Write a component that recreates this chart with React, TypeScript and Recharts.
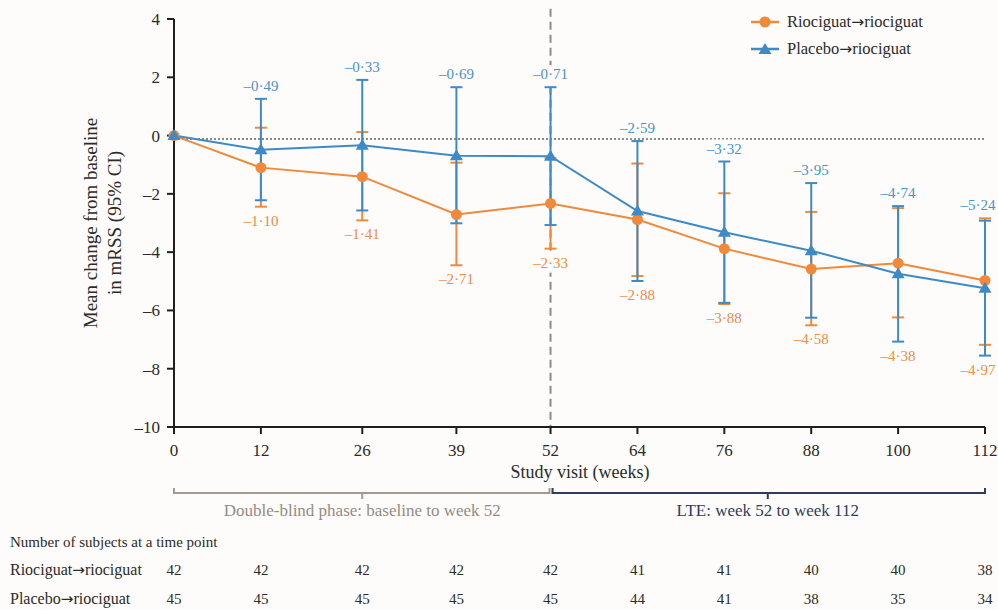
import {
  ComposedChart,
  Line,
  XAxis,
  YAxis,
  ErrorBar,
  ReferenceLine,
  LabelList,
  Legend,
} from 'recharts'

const WEEKS = [0, 12, 26, 39, 52, 64, 76, 88, 100, 112]
const RIO_MEAN = [0, -1.1, -1.41, -2.71, -2.33, -2.88, -3.88, -4.58, -4.38, -4.97]
const RIO_LOW = [null, -2.44, -2.91, -4.45, -3.88, -4.82, -5.78, -6.51, -6.24, -7.18]
const RIO_HIGH = [null, 0.27, 0.12, -0.93, -0.78, -0.96, -1.98, -2.62, -2.49, -2.84]
const PLA_MEAN = [0, -0.49, -0.33, -0.69, -0.71, -2.59, -3.32, -3.95, -4.74, -5.24]
const PLA_LOW = [null, -2.22, -2.57, -3.01, -3.07, -4.99, -5.74, -6.25, -7.07, -7.55]
const PLA_HIGH = [null, 1.26, 1.91, 1.66, 1.66, -0.19, -0.89, -1.63, -2.42, -2.92]
const RIO_N = [42, 42, 42, 42, 42, 41, 41, 40, 40, 38]
const PLA_N = [45, 45, 45, 45, 45, 44, 41, 38, 35, 34]
const Y_TICKS = [-10, -8, -6, -4, -2, 0, 2, 4]
const SERIES_NAMES: [string, string][] = [['Riociguat', 'riociguat'], ['Placebo', 'riociguat']]
const SWITCH_WEEK = 52
const LAST_WEEK = 112
const ZERO_REF = -0.12

const SERIF = '"Liberation Serif", "Times New Roman", serif'
const ARROW_FONT = '"DejaVu Sans", sans-serif'
const ORANGE = '#F08A3A'
const BLUE = '#3D8BC6'
const ORANGE_TXT = '#EE8C47'
const BLUE_TXT = '#4A92CA'
const BG = '#fdfcfa'
const INK = '#2b2b2b'

const W = 998
const H = 610
const MARGIN = { top: 19, right: 13, bottom: 0, left: 114 }
const Y_W = 60
const PLOT_L = MARGIN.left + Y_W
const PLOT_R = W - MARGIN.right
const xOf = (w: number) => PLOT_L + ((PLOT_R - PLOT_L) * w) / LAST_WEEK

const data = WEEKS.map((week, i) => {
  const rl = RIO_LOW[i], rh = RIO_HIGH[i], pl = PLA_LOW[i], ph = PLA_HIGH[i]
  return {
    week,
    rio: RIO_MEAN[i],
    pla: PLA_MEAN[i],
    rioErr: rl == null || rh == null ? null : [RIO_MEAN[i] - rl, rh - RIO_MEAN[i]],
    plaErr: pl == null || ph == null ? null : [PLA_MEAN[i] - pl, ph - PLA_MEAN[i]],
    rioLabelAt: rl == null || pl == null ? null : Math.min(rl, pl),
    plaLabelAt: rh == null || ph == null ? null : Math.max(rh, ph),
  }
})

const fmt = (v: number) => (v < 0 ? '–' : '') + Math.abs(v).toFixed(2).replace('.', '·')
const fmtTick = (v: number) => (v < 0 ? `–${-v}` : `${v}`)

function Triangle(props: any) {
  const { cx, cy, fill } = props
  if (cx == null || cy == null) return null
  return <path d={`M${cx},${cy - 6.5} L${cx + 6.5},${cy + 4.5} L${cx - 6.5},${cy + 4.5} Z`} fill={fill} />
}

function Circle(props: any) {
  const { cx, cy, fill } = props
  if (cx == null || cy == null) return null
  return <circle cx={cx} cy={cy} r={5.5} fill={fill} />
}

const makeLabel = (color: string, dy: number) => (props: any) => {
  const { y, value, index } = props
  if (index === 0 || value == null || props.x == null || y == null) return null
  const x = Math.min(props.x, W - 20)
  return (
    <g key={`lab-${index}`}>
      <rect x={x - 20} y={y + dy - 14} width={40} height={19} fill={BG} />
      <text x={x} y={y + dy} textAnchor="middle" fill={color} fontSize={15} fontFamily={SERIF}>
        {fmt(value)}
      </text>
    </g>
  )
}

const CountTick = (counts: number[]) => (props: any) => {
  const { x, y, payload } = props
  const i = WEEKS.indexOf(payload.value)
  return (
    <text x={x} y={y + 23} textAnchor="middle" fill={INK} fontSize={15} fontFamily={SERIF}>
      {counts[i]}
    </text>
  )
}

function SvgName({ parts, x, y, size }: { parts: [string, string]; x: number; y: number; size: number }) {
  return (
    <text x={x} y={y} fontSize={size} fontFamily={SERIF} fill={INK}>
      {parts[0]}
      <tspan fontFamily={ARROW_FONT} fontSize={size * 0.95}>→</tspan>
      {parts[1]}
    </text>
  )
}

function LegendBox() {
  const colors = [ORANGE, BLUE]
  return (
    <div style={{ fontFamily: SERIF, fontSize: 16.5, color: INK }}>
      {SERIES_NAMES.map((parts, i) => (
        <div key={parts[0]} style={{ display: 'flex', alignItems: 'center', height: 27 }}>
          <svg width={28} height={16}>
            <line x1={0} y1={8} x2={28} y2={8} stroke={colors[i]} strokeWidth={2.5} />
            {i === 0 ? <Circle cx={14} cy={8} fill={colors[i]} /> : <Triangle cx={14} cy={8.5} fill={colors[i]} />}
          </svg>
          <span style={{ marginLeft: 8 }}>
            {parts[0]}
            <span style={{ fontFamily: ARROW_FONT, fontSize: 15.5 }}>→</span>
            {parts[1]}
          </span>
        </div>
      ))}
    </div>
  )
}

function Overlay() {
  const bY = 493
  const x0 = xOf(0), x52 = xOf(SWITCH_WEEK), xEnd = xOf(LAST_WEEK)
  const midA = (x0 + x52) / 2, midB = (x52 + xEnd) / 2
  return (
    <svg width={W} height={H} style={{ position: 'absolute', left: 0, top: 0, pointerEvents: 'none' }}>
      <g fontFamily={SERIF} fill={INK}>
        <text transform="translate(97,223) rotate(-90)" textAnchor="middle" fontSize={19}>
          Mean change from baseline
        </text>
        <text transform="translate(121,223) rotate(-90)" textAnchor="middle" fontSize={19}>
          in mRSS (95% CI)
        </text>
        <text x={580} y={478} textAnchor="middle" fontSize={18}>Study visit (weeks)</text>
        <text x={10} y={547} fontSize={15}>Number of subjects at a time point</text>
      </g>
      <SvgName parts={SERIES_NAMES[0]} x={10} y={575} size={16} />
      <SvgName parts={SERIES_NAMES[1]} x={10} y={604} size={16} />
      <path
        d={`M${x0},${bY - 5} V${bY} H${x52 - 1} V${bY - 5} M${midA},${bY} V${bY + 6}`}
        stroke="#A39A94" strokeWidth={2} fill="none"
      />
      <path
        d={`M${x52 + 2},${bY - 5} V${bY} H${xEnd} V${bY - 5} M${midB},${bY} V${bY + 6}`}
        stroke="#2F3D5A" strokeWidth={2} fill="none"
      />
      <text x={midA} y={516} textAnchor="middle" fontSize={17} fontFamily={SERIF} fill="#948B86">
        Double-blind phase: baseline to week 52
      </text>
      <text x={midB} y={516} textAnchor="middle" fontSize={17} fontFamily={SERIF} fill="#2F3D5A">
        LTE: week 52 to week 112
      </text>
    </svg>
  )
}

export default function App() {
  const axisStroke = { stroke: '#1f1f1f', strokeWidth: 2 }
  return (
    <div style={{ position: 'absolute', left: 0, top: 0, width: W, height: H, background: BG, overflow: 'hidden' }}>
      <ComposedChart width={W} height={H} data={data} margin={MARGIN}>
        <XAxis
          dataKey="week"
          type="number"
          domain={[0, LAST_WEEK]}
          ticks={WEEKS}
          interval={0}
          height={125}
          tickSize={7}
          tickMargin={10}
          axisLine={axisStroke}
          tickLine={axisStroke}
          tick={{ fontSize: 17, fill: INK, fontFamily: SERIF }}
        />
        <XAxis
          xAxisId="n1"
          dataKey="week"
          type="number"
          domain={[0, LAST_WEEK]}
          ticks={WEEKS}
          interval={0}
          height={29}
          tickSize={0}
          tickMargin={0}
          axisLine={false}
          tickLine={false}
          tick={CountTick(RIO_N)}
        />
        <XAxis
          xAxisId="n2"
          dataKey="week"
          type="number"
          domain={[0, LAST_WEEK]}
          ticks={WEEKS}
          interval={0}
          height={29}
          tickSize={0}
          tickMargin={0}
          axisLine={false}
          tickLine={false}
          tick={CountTick(PLA_N)}
        />
        <YAxis
          type="number"
          domain={[-10, 4]}
          ticks={Y_TICKS}
          interval={0}
          width={Y_W}
          tickSize={7}
          tickMargin={7}
          axisLine={axisStroke}
          tickLine={axisStroke}
          tick={{ fontSize: 17, fill: INK, fontFamily: SERIF }}
          tickFormatter={fmtTick}
        />
        <ReferenceLine y={ZERO_REF} stroke="#8a8a8a" strokeWidth={2} strokeDasharray="2 2" />
        <ReferenceLine
          segment={[{ x: SWITCH_WEEK, y: 4.35 }, { x: SWITCH_WEEK, y: -10 }]}
          ifOverflow="visible"
          stroke="#8c8c8c"
          strokeWidth={2}
          strokeDasharray="8 5"
        />
        <Line dataKey="rio" stroke="none" dot={false} activeDot={false} legendType="none" isAnimationActive={false}>
          <ErrorBar dataKey="rioErr" direction="y" width={6} stroke={ORANGE} strokeWidth={2} />
        </Line>
        <Line dataKey="pla" stroke="none" dot={false} activeDot={false} legendType="none" isAnimationActive={false}>
          <ErrorBar dataKey="plaErr" direction="y" width={6} stroke={BLUE} strokeWidth={2} />
        </Line>
        <Line
          dataKey="rio"
          name={SERIES_NAMES[0].join('→')}
          stroke={ORANGE}
          strokeWidth={2}
          dot={(p: any) => <Circle key={`c${p.index}`} {...p} fill={ORANGE} />}
          activeDot={false}
          isAnimationActive={false}
        />
        <Line
          dataKey="pla"
          name={SERIES_NAMES[1].join('→')}
          stroke={BLUE}
          strokeWidth={2}
          dot={(p: any) => <Triangle key={`t${p.index}`} {...p} fill={BLUE} />}
          activeDot={false}
          isAnimationActive={false}
        />
        <Line dataKey="rioLabelAt" stroke="none" dot={false} activeDot={false} legendType="none" isAnimationActive={false}>
          <LabelList dataKey="rio" content={makeLabel(ORANGE_TXT, 19)} />
        </Line>
        <Line dataKey="plaLabelAt" stroke="none" dot={false} activeDot={false} legendType="none" isAnimationActive={false}>
          <LabelList dataKey="pla" content={makeLabel(BLUE_TXT, -8)} />
        </Line>
        <Legend
          layout="vertical"
          align="center"
          verticalAlign="middle"
          wrapperStyle={{ top: 8, left: 751, width: 240, height: 56 }}
          content={LegendBox}
        />
      </ComposedChart>
      <Overlay />
    </div>
  )
}
